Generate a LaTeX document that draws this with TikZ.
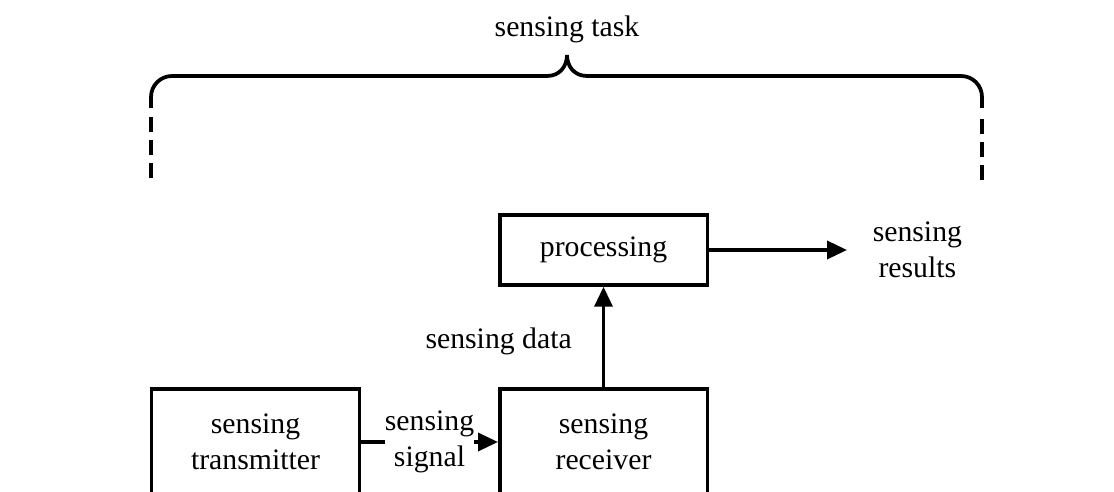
\documentclass[tikz,border=0pt]{standalone}
\usepackage{fontspec}
\setmainfont{Liberation Serif}
\usetikzlibrary{arrows.meta,positioning}

\begin{document}
\begin{tikzpicture}[x=0.4pt, y=-0.4pt, line width=1.4pt,
    font=\fontsize{11.9}{14.4}\selectfont,
    box/.style={draw, minimum width=83pt, align=center, inner sep=0pt},
    tip/.style={-{Triangle[length=8pt,width=7.2pt]}},
    brace/.style={line width=1.5pt}]
  \useasboundingbox (0,0) rectangle (1114,492);
  \clip (0,0) rectangle (1114,492);

  \node[box, minimum height=42.4pt] (transmitter) at (255.5,442) {sensing\\transmitter};
  \node[box, minimum height=42.4pt, right=54.8pt of transmitter] (receiver) {sensing\\receiver};
  \node[box, minimum height=28pt, above=40.2pt of receiver] (processing) {processing};
  \node[right=55.2pt of processing, align=center, inner xsep=9.6pt, inner ysep=0pt] (results) {sensing\\results};

  \draw[tip] (transmitter) -- node[fill=white, align=center, inner sep=0pt] (signal) {sensing\\signal} (receiver);
  \draw[tip] (receiver) -- node[pos=0.46, left=12pt, inner sep=0pt] (data) {sensing data} (processing);
  \draw[tip] (processing) -- (results);

  % brace over the whole task
  \draw[brace] (151,108) -- (151,97) .. controls (151,85.4) and (160.4,76) .. (172,76)
    -- (547,76) .. controls (560,76) and (567,66) .. (567,55)
    .. controls (567,66) and (574,76) .. (587,76)
    -- (961,76) .. controls (972.6,76) and (982,85.4) .. (982,97) -- (982,108);
  \draw[brace, dash pattern=on 6pt off 3.2pt] (151,117) -- (151,178);
  \draw[brace, dash pattern=on 6pt off 3.2pt] (982,119) -- (982,180);
  \node (task) at (567,29) {sensing task};
\end{tikzpicture}
\end{document}
